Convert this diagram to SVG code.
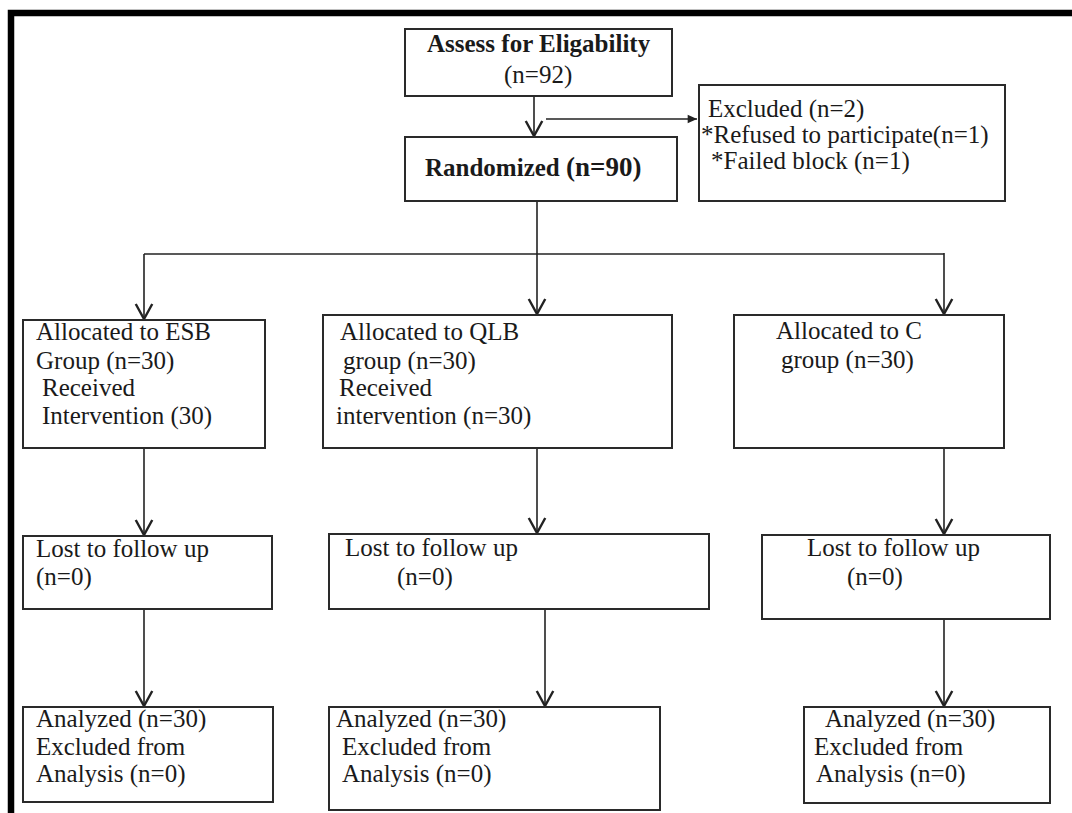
<svg xmlns="http://www.w3.org/2000/svg" width="1072" height="813" viewBox="0 0 1072 813">
<defs>
<style>
.box{fill:#fff;stroke:#2a2a2a;stroke-width:2}
.t{font-family:"Liberation Serif","Times New Roman",serif;font-size:25px;fill:#1a1a1a}
.b{font-weight:bold}
.ln{fill:none;stroke:#222;stroke-width:1.6}
</style>
<marker id="v" markerUnits="userSpaceOnUse" markerWidth="24" markerHeight="24" viewBox="-12 -8 14 16" refX="0" refY="0" orient="auto" overflow="visible">
<path d="M-10,-5.5 L0,0 L-10,5.5" fill="none" stroke="#222" stroke-width="1.6"/>
</marker>
<marker id="s" markerUnits="userSpaceOnUse" markerWidth="12" markerHeight="12" viewBox="-8 -4 9 8" refX="0" refY="0" orient="auto" overflow="visible">
<path d="M-7,-3.2 L0,0 L-7,3.2 Z" fill="#222"/>
</marker>
</defs>
<rect width="1072" height="813" fill="#fff"/>
<path d="M11,813 V13 H1072" fill="none" stroke="#000" stroke-width="6.5"/>

<g id="connectors">
<path class="ln" d="M534,96 V136" marker-end="url(#v)"/>
<path class="ln" d="M546,119 H697" marker-end="url(#s)"/>
<path class="ln" d="M537,201 V314" marker-end="url(#v)"/>
<path class="ln" d="M144,254 H944"/>
<path class="ln" d="M144,254 V319" marker-end="url(#v)"/>
<path class="ln" d="M944,253 V314" marker-end="url(#v)"/>
<path class="ln" d="M144,448 V535" marker-end="url(#v)"/>
<path class="ln" d="M537,448 V533" marker-end="url(#v)"/>
<path class="ln" d="M944,435 V534" marker-end="url(#v)"/>
<path class="ln" d="M144,609 V706" marker-end="url(#v)"/>
<path class="ln" d="M545,609 V706" marker-end="url(#v)"/>
<path class="ln" d="M944,610 V706" marker-end="url(#v)"/>
</g>

<g id="assess">
<rect class="box" x="405" y="29" width="267" height="67"/>
<text class="t b" x="427" y="52">Assess for Eligability</text>
<text class="t" x="504" y="83">(n=92)</text>
</g>

<g id="excluded">
<rect class="box" x="699" y="85" width="306" height="116"/>
<text class="t" x="708" y="117">Excluded (n=2)</text>
<text class="t" x="701" y="143">*Refused to participate(n=1)</text>
<text class="t" x="711" y="169">*Failed block (n=1)</text>
</g>

<g id="randomized">
<rect class="box" x="405" y="137" width="272" height="64"/>
<text class="t b" x="425" y="176">Randomized <tspan font-size="27">(n=90)</tspan></text>
</g>

<g id="alloc-esb">
<rect class="box" x="23" y="320" width="242" height="128"/>
<text class="t" x="36" y="340">Allocated to ESB</text>
<text class="t" x="36" y="369">Group (n=30)</text>
<text class="t" x="42" y="396">Received</text>
<text class="t" x="42" y="424">Intervention (30)</text>
</g>

<g id="alloc-qlb">
<rect class="box" x="323" y="315" width="349" height="133"/>
<text class="t" x="340" y="340">Allocated to QLB</text>
<text class="t" x="343" y="369">group (n=30)</text>
<text class="t" x="339" y="396">Received</text>
<text class="t" x="336" y="424">intervention (n=30)</text>
</g>

<g id="alloc-c">
<rect class="box" x="734" y="315" width="270" height="133"/>
<text class="t" x="776" y="339">Allocated to C</text>
<text class="t" x="781" y="368">group (n=30)</text>
</g>

<g id="lost-esb">
<rect class="box" x="23" y="536" width="249" height="73"/>
<text class="t" x="36" y="557">Lost to follow up</text>
<text class="t" x="36" y="585">(n=0)</text>
</g>

<g id="lost-qlb">
<rect class="box" x="329" y="534" width="380" height="75"/>
<text class="t" x="345" y="556">Lost to follow up</text>
<text class="t" x="397" y="585">(n=0)</text>
</g>

<g id="lost-c">
<rect class="box" x="762" y="535" width="288" height="84"/>
<text class="t" x="807" y="556">Lost to follow up</text>
<text class="t" x="847" y="585">(n=0)</text>
</g>

<g id="analyzed-esb">
<rect class="box" x="23" y="707" width="250" height="95"/>
<text class="t" x="36" y="727">Analyzed (n=30)</text>
<text class="t" x="36" y="755">Excluded from</text>
<text class="t" x="36" y="782">Analysis  (n=0)</text>
</g>

<g id="analyzed-qlb">
<rect class="box" x="329" y="707" width="331" height="103"/>
<text class="t" x="336" y="727">Analyzed (n=30)</text>
<text class="t" x="342" y="755">Excluded from</text>
<text class="t" x="342" y="782">Analysis  (n=0)</text>
</g>

<g id="analyzed-c">
<rect class="box" x="804" y="707" width="246" height="96"/>
<text class="t" x="825" y="727">Analyzed (n=30)</text>
<text class="t" x="814" y="755">Excluded from</text>
<text class="t" x="816" y="782">Analysis  (n=0)</text>
</g>
</svg>
